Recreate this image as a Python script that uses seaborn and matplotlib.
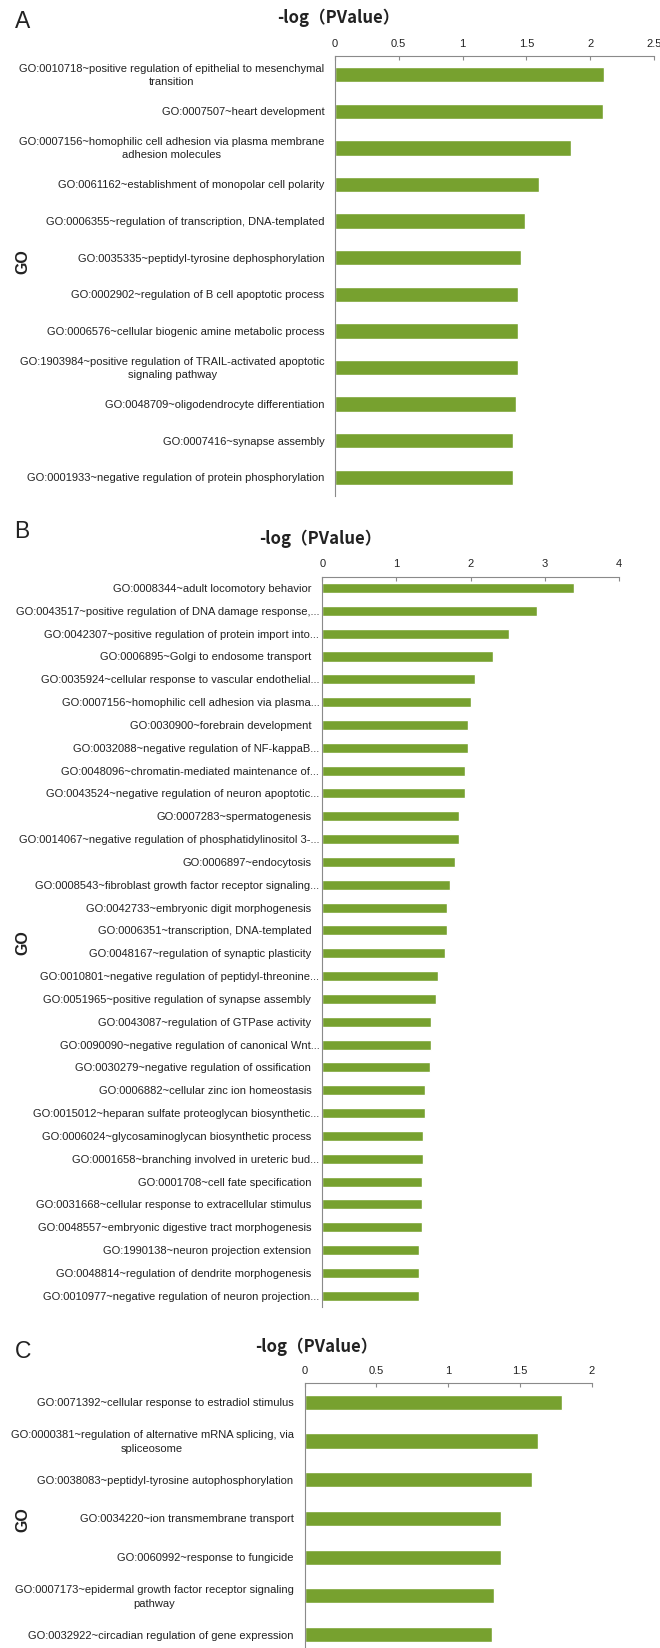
import matplotlib
matplotlib.use("Agg")
import matplotlib.pyplot as plt
import matplotlib.transforms as mtransforms
import seaborn as sns
import pandas as pd

# panel A
terms_a = [
    "GO:0010718~positive regulation of epithelial to mesenchymal\ntransition",
    "GO:0007507~heart development",
    "GO:0007156~homophilic cell adhesion via plasma membrane\nadhesion molecules",
    "GO:0061162~establishment of monopolar cell polarity",
    "GO:0006355~regulation of transcription, DNA-templated",
    "GO:0035335~peptidyl-tyrosine dephosphorylation",
    "GO:0002902~regulation of B cell apoptotic process",
    "GO:0006576~cellular biogenic amine metabolic process",
    "GO:1903984~positive regulation of TRAIL-activated apoptotic\nsignaling pathway",
    "GO:0048709~oligodendrocyte differentiation",
    "GO:0007416~synapse assembly",
    "GO:0001933~negative regulation of protein phosphorylation",
]
values_a = [2.105, 2.10, 1.846, 1.60, 1.49, 1.457, 1.431, 1.431, 1.431, 1.415, 1.395, 1.395]
ticks_a = [0, 0.5, 1, 1.5, 2, 2.5]
ticklabels_a = ["0", "0.5", "1", "1.5", "2", "2.5"]

# panel B
terms_b = [
    "GO:0008344~adult locomotory behavior",
    "GO:0043517~positive regulation of DNA damage response,...",
    "GO:0042307~positive regulation of protein import into...",
    "GO:0006895~Golgi to endosome transport",
    "GO:0035924~cellular response to vascular endothelial...",
    "GO:0007156~homophilic cell adhesion via plasma...",
    "GO:0030900~forebrain development",
    "GO:0032088~negative regulation of NF-kappaB...",
    "GO:0048096~chromatin-mediated maintenance of...",
    "GO:0043524~negative regulation of neuron apoptotic...",
    "GO:0007283~spermatogenesis",
    "GO:0014067~negative regulation of phosphatidylinositol 3-...",
    "GO:0006897~endocytosis",
    "GO:0008543~fibroblast growth factor receptor signaling...",
    "GO:0042733~embryonic digit morphogenesis",
    "GO:0006351~transcription, DNA-templated",
    "GO:0048167~regulation of synaptic plasticity",
    "GO:0010801~negative regulation of peptidyl-threonine...",
    "GO:0051965~positive regulation of synapse assembly",
    "GO:0043087~regulation of GTPase activity",
    "GO:0090090~negative regulation of canonical Wnt...",
    "GO:0030279~negative regulation of ossification",
    "GO:0006882~cellular zinc ion homeostasis",
    "GO:0015012~heparan sulfate proteoglycan biosynthetic...",
    "GO:0006024~glycosaminoglycan biosynthetic process",
    "GO:0001658~branching involved in ureteric bud...",
    "GO:0001708~cell fate specification",
    "GO:0031668~cellular response to extracellular stimulus",
    "GO:0048557~embryonic digestive tract morphogenesis",
    "GO:1990138~neuron projection extension",
    "GO:0048814~regulation of dendrite morphogenesis",
    "GO:0010977~negative regulation of neuron projection...",
]
values_b = [3.39, 2.90, 2.52, 2.30, 2.06, 2.00, 1.97, 1.97, 1.93, 1.92, 1.85, 1.84,
            1.79, 1.72, 1.68, 1.68, 1.66, 1.56, 1.54, 1.47, 1.46, 1.45, 1.39, 1.39,
            1.36, 1.36, 1.35, 1.35, 1.35, 1.31, 1.31, 1.31]
ticks_b = [0, 1, 2, 3, 4]
ticklabels_b = ["0", "1", "2", "3", "4"]

# panel C
terms_c = [
    "GO:0071392~cellular response to estradiol stimulus",
    "GO:0000381~regulation of alternative mRNA splicing, via\nspliceosome",
    "GO:0038083~peptidyl-tyrosine autophosphorylation",
    "GO:0034220~ion transmembrane transport",
    "GO:0060992~response to fungicide",
    "GO:0007173~epidermal growth factor receptor signaling\npathway",
    "GO:0032922~circadian regulation of gene expression",
]
values_c = [1.795, 1.628, 1.584, 1.368, 1.368, 1.318, 1.303]
ticks_c = [0, 0.5, 1, 1.5, 2]
ticklabels_c = ["0", "0.5", "1", "1.5", "2"]

GREEN = "#77a12f"
GRAY = "#8a8a8a"
TEXT = "#222222"
LABEL_FONT = ["Liberation Sans Narrow", "Liberation Sans", "DejaVu Sans"]
TITLE_FONT = ["Noto Sans CJK SC", "DejaVu Sans"]

sns.set_theme(style="white")
plt.rcParams['font.family'] = LABEL_FONT

W, H = 660, 1649
fig = plt.figure(figsize=(W / 100, H / 100), dpi=100)


def px_axes(left, right, top, bottom):
    return fig.add_axes([left / W, 1 - bottom / H, (right - left) / W, (bottom - top) / H])


def draw_panel(ax, terms, values, ticks, ticklabels, bar_width, pad_full, pad_cut):
    df = pd.DataFrame({"term": terms, "value": values})
    sns.barplot(data=df, x="value", y="term", orient="h", color=GREEN,
                saturation=1, width=bar_width, ax=ax)
    ax.set_xlim(ticks[0], ticks[-1])
    ax.xaxis.tick_top()
    ax.set_xticks(ticks, ticklabels)
    ax.tick_params(axis="x", direction="in", length=3, width=0.8, color=GRAY,
                   labelsize=8, labelcolor=TEXT, pad=6)
    ax.tick_params(axis="y", left=False, labelleft=False)
    ax.set_xlabel("")
    ax.set_ylabel("")
    for side in ["right", "bottom"]:
        ax.spines[side].set_visible(False)
    for side in ["left", "top"]:
        ax.spines[side].set_color(GRAY)
        ax.spines[side].set_linewidth(0.8)
    # category labels, long truncated names sit closer to the axis
    trans = mtransforms.blended_transform_factory(ax.transAxes, ax.transData)
    for i, term in enumerate(terms):
        pad = pad_cut if term.endswith("...") else pad_full
        t = mtransforms.offset_copy(trans, fig=fig, x=-pad, y=0, units="dots")
        ax.text(0, i, term, transform=t, ha="right", va="center", ma="center",
                fontsize=8.0, color=TEXT, linespacing=1.4)


ax_a = px_axes(334.9, 654.0, 57.3, 496.6)
draw_panel(ax_a, terms_a, values_a, ticks_a, ticklabels_a, 0.42, 10.5, 10.5)

ax_b = px_axes(322.3, 618.9, 577.6, 1308.1)
draw_panel(ax_b, terms_b, values_b, ticks_b, ticklabels_b, 0.44, 11, 3)

ax_c = px_axes(304.6, 591.6, 1383.9, 1655.0)
draw_panel(ax_c, terms_c, values_c, ticks_c, ticklabels_c, 0.39, 11, 11)


def fig_text(x, y, s, **kw):
    fig.text(x / W, 1 - y / H, s, ha="center", va="center", **kw)


for letter, (lx, ly) in zip(["A", "B", "C"], [(23, 21), (22, 532), (23, 1352)]):
    fig_text(lx, ly, letter, fontsize=16.5, color=TEXT, family=["Liberation Sans", "DejaVu Sans"])

for tx, ty in [(338, 18), (320, 539), (316, 1347)]:
    fig_text(tx, ty, "-log（PValue）", fontsize=12, fontweight="bold", color=TEXT, family=TITLE_FONT)

for gx, gy in [(23, 262), (23, 943), (23, 1520)]:
    fig_text(gx, gy, "GO", fontsize=11.5, fontweight="bold", rotation=90, color=TEXT,
             family=["Liberation Sans", "DejaVu Sans"])

fig.savefig("out.png", dpi=100, facecolor="white")
